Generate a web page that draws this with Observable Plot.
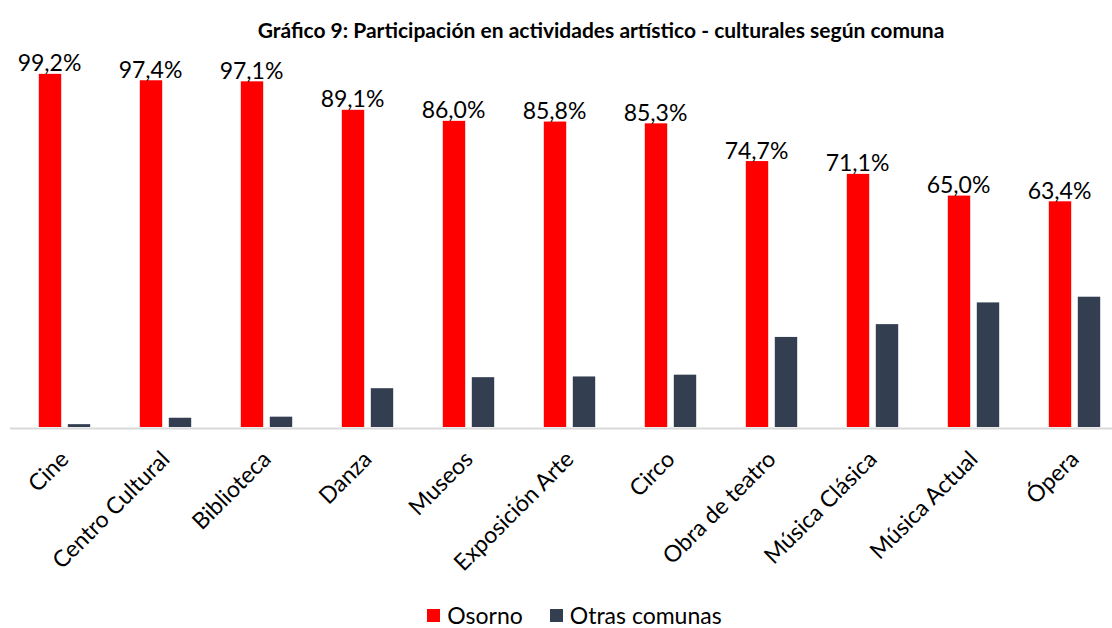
<!DOCTYPE html>
<html><head><meta charset="utf-8">
<script src="https://cdn.jsdelivr.net/npm/d3@7"></script>
<script src="https://cdn.jsdelivr.net/npm/@observablehq/plot@0.6"></script>
<style>
html,body{margin:0;padding:0;background:#fff;overflow:hidden;width:1112px;height:628px;position:relative;}
body{font-family:Lato,"Open Sans",sans-serif;color:#000;}
#title{position:absolute;left:0;top:18px;width:1112px;padding-left:90px;box-sizing:border-box;text-align:center;font-size:21px;font-weight:bold;line-height:24px;white-space:nowrap;}
#chart{position:absolute;left:0;top:50px;width:1128px;}
#chart svg{max-width:none;}
#legend{position:absolute;left:0;top:602px;width:1112px;height:26px;display:flex;justify-content:center;align-items:center;padding-left:37px;box-sizing:border-box;font-size:23px;line-height:26px;}
.item{display:flex;align-items:center;margin-right:27px;}
.item:last-child{margin-right:0;}
.sw{width:13px;height:13px;margin-right:7px;}
</style></head><body>
<div id="title"></div>
<div id="chart"></div>
<div id="legend"></div>
<script>
const title = "Gráfico 9: Participación en actividades artístico - culturales según comuna";
const categories = ["Cine","Centro Cultural","Biblioteca","Danza","Museos","Exposición Arte","Circo","Obra de teatro","Música Clásica","Música Actual","Ópera"];
const osorno = [99.2,97.4,97.1,89.1,86.0,85.8,85.3,74.7,71.1,65.0,63.4];
const otras = [0.8,2.6,2.9,10.9,14.0,14.2,14.7,25.3,28.9,35.0,36.6];
const seriesNames = ["Osorno","Otras comunas"];
const seriesColors = ["#FF0000","#333F50"];

const fmt = v => v.toFixed(1).replace(".", ",") + "%";
const rows = categories.map((c,i)=>({categoria:c, osorno:osorno[i], otras:otras[i]}));

document.getElementById("title").textContent = title;

const plot = Plot.plot({
  width:1128, height:545,
  marginLeft:10, marginRight:0, marginTop:21, marginBottom:168,
  style:{fontFamily:"Lato, 'Open Sans', sans-serif", fontSize:"20px", background:"transparent", color:"#000", overflow:"visible", maxWidth:"none"},
  x:{domain:categories, padding:0},
  y:{domain:[0,100], axis:null},
  marks:[
    Plot.barY(rows,{x:"categoria", y:"osorno", fill:seriesColors[0], insetLeft:24.8, insetRight:53.8}),
    Plot.barY(rows,{x:"categoria", y:"otras", fill:seriesColors[1], insetLeft:53.8, insetRight:24.8}),
    Plot.ruleY([0],{stroke:"#d9d9d9", strokeWidth:2, dy:1}),
    Plot.text(rows,{x:"categoria", y:"osorno", text:d=>fmt(d.osorno), dx:-15.5, dy:-3, lineAnchor:"bottom", fontSize:23, fill:"#000"}),
    Plot.axisX({tickRotate:-45, tickSize:0, tickPadding:28, fontSize:23, dx:0, label:null, fill:"#000"})
  ]
});
document.getElementById("chart").appendChild(plot);

const legend = document.getElementById("legend");
seriesNames.forEach((n,i)=>{
  const it = document.createElement("div"); it.className="item";
  const sw = document.createElement("div"); sw.className="sw"; sw.style.background=seriesColors[i];
  const tx = document.createElement("span"); tx.textContent=n;
  it.appendChild(sw); it.appendChild(tx); legend.appendChild(it);
});
</script>
</body></html>
